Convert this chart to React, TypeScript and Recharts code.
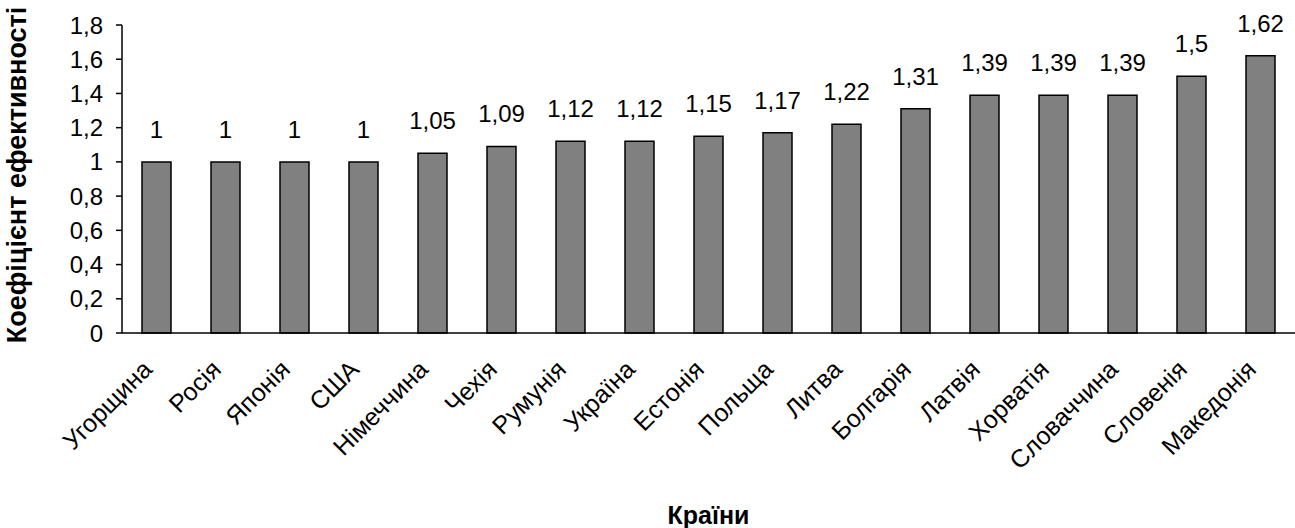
import { BarChart, Bar, XAxis, YAxis, LabelList } from "recharts";

const countries = [
  "Угорщина",
  "Росія",
  "Японія",
  "США",
  "Німеччина",
  "Чехія",
  "Румунія",
  "Україна",
  "Естонія",
  "Польща",
  "Литва",
  "Болгарія",
  "Латвія",
  "Хорватія",
  "Словаччина",
  "Словенія",
  "Македонія",
];
const coefficients = [1, 1, 1, 1, 1.05, 1.09, 1.12, 1.12, 1.15, 1.17, 1.22, 1.31, 1.39, 1.39, 1.39, 1.5, 1.62];
const yTicks = [0, 0.2, 0.4, 0.6, 0.8, 1, 1.2, 1.4, 1.6, 1.8];
// category borders, where the x ticks go
const borderTicks = [0, 1, 2, 3, 4, 5, 6, 7, 8, 9, 10, 11, 12, 13, 14, 15, 16, 17];

const yTitle = "Коефіцієнт ефективності";
const xTitle = "Країни";

const data = countries.map((name, i) => ({ name, value: coefficients[i] }));

const FONT = '"Liberation Sans", Arial, sans-serif';
const comma = (v: any) => String(v).replace(".", ",");

function CountryTick(props: any) {
  const { x, y, payload } = props;
  return (
    <g transform={`translate(${x},${y})`}>
      <text
        x={0}
        y={0}
        transform="translate(-3,38) rotate(-45)"
        textAnchor="end"
        fontSize={25}
        fill="#000"
        fontFamily={FONT}
      >
        {payload.value}
      </text>
    </g>
  );
}

function YTitle(props: any) {
  const vb = props.viewBox || { x: 0, y: 25, width: 122, height: 308 };
  const cx = 17;
  const cy = vb.y + vb.height / 2 - 4;
  return (
    <text
      x={cx}
      y={cy}
      transform={`rotate(-90, ${cx}, ${cy})`}
      textAnchor="middle"
      dominantBaseline="central"
      fontSize={27}
      fontWeight="bold"
      fill="#000"
      fontFamily={FONT}
    >
      {yTitle}
    </text>
  );
}

function XTitle(props: any) {
  const vb = props.viewBox || { x: 122, y: 333, width: 1173, height: 195 };
  return (
    <text
      x={vb.x + vb.width / 2}
      y={vb.y + vb.height - 4}
      textAnchor="middle"
      fontSize={25}
      fontWeight="bold"
      fill="#000"
      fontFamily={FONT}
    >
      {xTitle}
    </text>
  );
}

export default function App() {
  return (
    <div style={{ width: 1295, height: 528, background: "#fff" }}>
      <style>{"body{margin:0}"}</style>
      <BarChart
        width={1295}
        height={528}
        data={data}
        margin={{ top: 25, right: 0, bottom: 0, left: 0 }}
        style={{ fontFamily: FONT }}
      >
        <XAxis
          xAxisId="edges"
          type="number"
          domain={[0, 17]}
          allowDataOverflow
          ticks={borderTicks}
          height={0}
          axisLine={false}
          tickSize={6}
          tickLine={{ stroke: "#000", strokeWidth: 1.5 }}
          tickFormatter={() => ""}
        />
        <XAxis
          xAxisId="cat"
          dataKey="name"
          height={195}
          interval={0}
          tickSize={0}
          tickMargin={0}
          tickLine={false}
          axisLine={{ stroke: "#000", strokeWidth: 1.5 }}
          tick={<CountryTick />}
          label={{ content: (p: any) => <XTitle {...p} /> }}
        />
        <YAxis
          width={122}
          domain={[0, 1.8]}
          ticks={yTicks}
          tickFormatter={comma}
          tickSize={6}
          tickMargin={13}
          axisLine={{ stroke: "#000", strokeWidth: 1.5 }}
          tickLine={{ stroke: "#000", strokeWidth: 1.5 }}
          tick={{ fill: "#000", fontSize: 24, fontFamily: FONT }}
          label={{ content: (p: any) => <YTitle {...p} /> }}
        />
        <Bar
          xAxisId="cat"
          dataKey="value"
          barSize={29}
          fill="#808080"
          stroke="#000"
          strokeWidth={1.5}
          isAnimationActive={false}
        >
          <LabelList
            dataKey="value"
            position="top"
            offset={24}
            formatter={comma}
            fill="#000"
            fontSize={24}
            fontFamily={FONT}
          />
        </Bar>
      </BarChart>
    </div>
  );
}
